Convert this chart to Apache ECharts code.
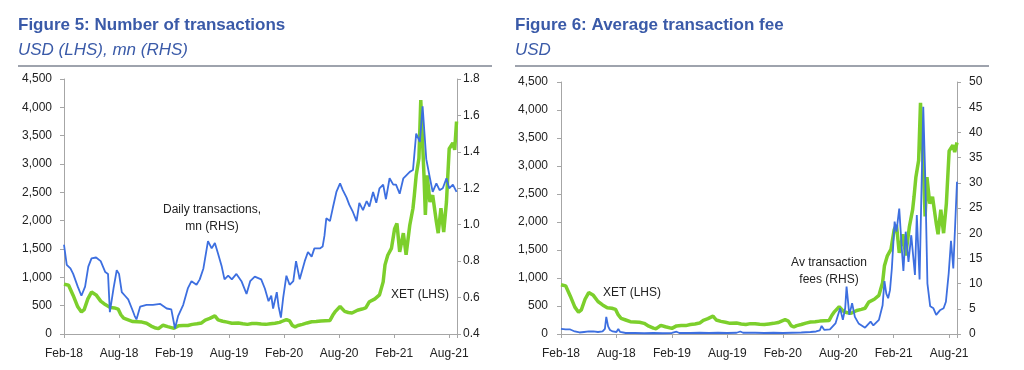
<!DOCTYPE html>
<html><head><meta charset="utf-8">
<script src="https://cdn.jsdelivr.net/npm/echarts@6/dist/echarts.min.js"></script>
<style>html,body{margin:0;padding:0;background:#fff}#c{width:1024px;height:370px}</style>
</head><body><div id="c"></div>
<script>
// x values: months since 1 Feb 2018
const tickLabels = ['Feb-18','Aug-18','Feb-19','Aug-19','Feb-20','Aug-20','Feb-21','Aug-21'];

// Figure 5, blue: daily transactions, mn (RHS)
const dailyTxMn = [[0,0.89],[0.3,0.78],[0.7,0.76],[1,0.73],[1.5,0.66],[1.9,0.61],[2.3,0.66],[2.65,0.77],[3,0.815],[3.5,0.82],[4,0.80],[4.5,0.74],[4.8,0.73],[5.0,0.52],[5.4,0.65],[5.75,0.75],[6.0,0.73],[6.3,0.63],[6.65,0.61],[7,0.59],[7.4,0.54],[7.7,0.50],[7.9,0.48],[8.3,0.55],[9,0.56],[9.7,0.56],[10.5,0.565],[11.2,0.54],[11.7,0.535],[12.1,0.43],[12.45,0.50],[13,0.56],[13.5,0.65],[13.9,0.69],[14.45,0.67],[14.8,0.70],[15.2,0.76],[15.7,0.91],[16.1,0.87],[16.45,0.90],[16.8,0.84],[17.2,0.77],[17.5,0.70],[17.9,0.72],[18.3,0.70],[18.8,0.73],[19.35,0.69],[19.9,0.62],[20.3,0.69],[20.8,0.715],[21.5,0.70],[21.9,0.65],[22.3,0.58],[22.6,0.61],[22.8,0.54],[23.2,0.63],[23.4,0.55],[23.65,0.49],[23.9,0.60],[24.25,0.72],[24.6,0.67],[25,0.69],[25.3,0.80],[25.7,0.70],[26.25,0.80],[26.6,0.85],[27,0.825],[27.3,0.87],[27.9,0.87],[28.2,0.88],[28.4,0.94],[28.6,1.035],[29,1.02],[29.3,1.09],[29.7,1.18],[30.1,1.227],[30.4,1.19],[30.8,1.15],[31.1,1.11],[31.5,1.07],[31.9,1.02],[32.2,1.12],[32.6,1.08],[33,1.13],[33.3,1.10],[33.7,1.18],[34.05,1.12],[34.4,1.20],[34.8,1.22],[35.1,1.14],[35.5,1.255],[35.9,1.22],[36.2,1.22],[36.6,1.17],[37,1.255],[37.3,1.27],[37.7,1.29],[38.05,1.30],[38.4,1.50],[38.8,1.455],[39.1,1.65],[39.5,1.36],[39.9,1.255],[40.2,1.18],[40.6,1.227],[40.95,1.19],[41.3,1.20],[41.7,1.255],[42,1.20],[42.4,1.22],[42.8,1.18]];

// XET price, USD (LHS)
const xetPrice = [[0,880],[0.5,860],[1,680],[1.5,480],[1.9,390],[2.2,430],[2.6,620],[3.0,740],[3.5,690],[4,580],[4.5,520],[5.0,470],[5.5,460],[5.9,440],[6.2,340],[6.5,280],[7,250],[7.5,220],[8,215],[8.5,210],[9,190],[9.5,140],[10,105],[10.3,95],[10.8,155],[11.3,130],[12,100],[12.5,145],[13,150],[13.5,150],[14,170],[14.5,180],[15,195],[15.4,245],[15.9,275],[16.45,320],[16.8,250],[17.3,225],[17.8,210],[18.3,190],[19,195],[19.5,180],[20,170],[20.5,185],[21,185],[21.5,175],[22,170],[22.5,180],[23,190],[23.5,205],[23.8,225],[24.25,255],[24.6,230],[24.9,150],[25.2,125],[25.5,150],[26,170],[26.5,195],[27,215],[27.5,220],[28,230],[28.5,235],[29,240],[29.3,330],[29.6,400],[30.1,485],[30.6,400],[31,380],[31.4,370],[32,420],[32.5,440],[32.9,460],[33.3,570],[33.9,620],[34.4,690],[34.8,920],[35.0,1220],[35.3,1390],[35.7,1510],[36.05,1860],[36.3,1950],[36.6,1450],[37,1780],[37.3,1400],[37.7,1920],[38.05,2220],[38.2,2450],[38.4,2800],[38.7,3100],[38.9,4130],[39.1,4100],[39.25,2800],[39.4,2100],[39.6,2800],[39.9,2330],[40.2,2450],[40.6,1980],[40.8,1780],[41.1,2220],[41.4,1800],[41.7,2330],[42.0,3270],[42.4,3370],[42.6,3250],[42.8,3750]];
// last reading of XET in Figure 6 (its series stops a little earlier)
const xetPriceFig6Tail = [[42.85,3420]];

// Figure 6, blue: average transaction fee, USD (RHS)
const avgFeeUsd = [[0,1.0],[0.5,0.9],[1,0.9],[1.5,0.5],[2,0.3],[2.5,0.4],[3,0.5],[3.5,0.5],[4,0.4],[4.5,0.5],[4.75,1.0],[4.9,3.4],[5.1,1.5],[5.3,0.8],[5.6,0.5],[6.0,0.4],[6.2,1.0],[6.4,0.4],[7,0.2],[8,0.2],[9,0.15],[10,0.2],[11,0.15],[12,0.2],[12.5,0.45],[12.8,0.2],[14,0.2],[15,0.25],[16,0.2],[17,0.25],[18,0.2],[19,0.25],[19.4,0.5],[19.7,0.25],[21,0.25],[22,0.2],[23,0.25],[24,0.2],[25,0.25],[26,0.3],[27,0.4],[27.6,0.5],[28.0,0.7],[28.2,1.6],[28.5,0.8],[29.1,0.9],[29.7,2.1],[30.2,5.1],[30.5,2.8],[30.75,5.1],[30.9,9.4],[31.2,3.8],[31.5,6.1],[31.8,3.4],[32.2,2.1],[32.9,1.25],[33.5,2.45],[33.8,1.7],[34.4,2.8],[34.8,5.7],[35.0,10.5],[35.2,8],[35.4,7.1],[35.6,8.7],[35.8,13],[36.1,22.3],[36.3,20.3],[36.6,24.9],[36.9,16.3],[37.05,12.5],[37.3,20.3],[37.6,14.3],[37.9,19.6],[38.3,11.7],[38.5,23.6],[38.8,10.8],[39.2,45.1],[39.4,32],[39.65,10],[39.95,5.5],[40.3,5.1],[40.6,3.8],[41.0,4.7],[41.4,5.1],[41.65,6.4],[41.95,12],[42.2,18.5],[42.45,13],[42.85,30.2]];

const FONT = '"Liberation Sans", Arial, sans-serif';
const BLUE = '#3d6fe0';
const GREEN = '#7ccf2c';
const TITLE = '#3a5aa8';
const AXIS = '#a6a6a6';

const chart = echarts.init(document.getElementById('c'), null, {renderer: 'canvas'});

function xAxisCfg(gi) {
  return {
    type: 'value', gridIndex: gi, min: 0, max: 42.85, interval: 6,
    axisLine: {lineStyle: {color: AXIS, width: 1}},
    axisTick: {length: 4, lineStyle: {color: AXIS}},
    splitLine: {show: false},
    axisLabel: {
      margin: 14, fontSize: 12, color: '#222', fontFamily: FONT,
      formatter: v => (Math.abs(v % 6) < 1e-9 && tickLabels[Math.round(v / 6)]) || ''
    }
  };
}
function yAxisCfg(gi, pos, min, max, interval, fmt, margin) {
  return {
    type: 'value', gridIndex: gi, position: pos, min, max, interval,
    axisLine: {show: true, lineStyle: {color: AXIS, width: 1}},
    axisTick: {show: true, length: 4, lineStyle: {color: AXIS}},
    splitLine: {show: false},
    axisLabel: {margin, fontSize: 12, color: '#222', fontFamily: FONT, formatter: fmt}
  };
}
const commas = v => Math.round(v).toLocaleString('en-US');

const option = {
  animation: false,
  backgroundColor: '#fff',
  grid: [
    {left: 64, right: 1024 - 457, top: 79, bottom: 36},
    {left: 561, right: 1024 - 957, top: 82, bottom: 36}
  ],
  xAxis: [xAxisCfg(0), xAxisCfg(1)],
  yAxis: [
    yAxisCfg(0, 'left', 0, 4500, 500, commas, 12),
    yAxisCfg(0, 'right', 0.4, 1.8, 0.2, v => v.toFixed(1), 6),
    yAxisCfg(1, 'left', 0, 4500, 500, commas, 13),
    yAxisCfg(1, 'right', 0, 50, 5, v => String(Math.round(v)), 12)
  ],
  series: [
    {type: 'line', xAxisIndex: 0, yAxisIndex: 0, data: xetPrice, showSymbol: false, smooth: false,
     lineStyle: {color: GREEN, width: 3.5}, z: 2},
    {type: 'line', xAxisIndex: 0, yAxisIndex: 1, data: dailyTxMn, showSymbol: false,
     lineStyle: {color: BLUE, width: 1.8}, z: 3},
    {type: 'line', xAxisIndex: 1, yAxisIndex: 2, data: xetPrice.slice(0, -1).concat(xetPriceFig6Tail), showSymbol: false,
     lineStyle: {color: GREEN, width: 3.5}, z: 2},
    {type: 'line', xAxisIndex: 1, yAxisIndex: 3, data: avgFeeUsd, showSymbol: false,
     lineStyle: {color: BLUE, width: 1.8}, z: 3}
  ],
  graphic: [
    {type: 'text', left: 18, top: 17, style: {text: 'Figure 5: Number of transactions', fill: TITLE, font: 'bold 17px ' + FONT}},
    {type: 'text', left: 18, top: 42, style: {text: 'USD (LHS), mn (RHS)', fill: TITLE, font: 'italic 17px ' + FONT}},
    {type: 'rect', shape: {x: 18, y: 65, width: 474, height: 2}, style: {fill: '#9ea3ad'}},
    {type: 'text', left: 515, top: 17, style: {text: 'Figure 6: Average transaction fee', fill: TITLE, font: 'bold 17px ' + FONT}},
    {type: 'text', left: 515, top: 42, style: {text: 'USD', fill: TITLE, font: 'italic 17px ' + FONT}},
    {type: 'rect', shape: {x: 515, y: 65, width: 474, height: 2}, style: {fill: '#9ea3ad'}},
    {type: 'text', x: 212, y: 218.5, style: {text: 'Daily transactions,\nmn (RHS)', fill: '#222', font: '12px ' + FONT, align: 'center', verticalAlign: 'middle', lineHeight: 17}},
    {type: 'text', x: 391, y: 295, style: {text: 'XET (LHS)', fill: '#222', font: '12px ' + FONT, align: 'left', verticalAlign: 'middle'}},
    {type: 'text', x: 603, y: 293, style: {text: 'XET (LHS)', fill: '#222', font: '12px ' + FONT, align: 'left', verticalAlign: 'middle'}},
    {type: 'text', x: 829, y: 271.5, style: {text: 'Av transaction\nfees (RHS)', fill: '#222', font: '12px ' + FONT, align: 'center', verticalAlign: 'middle', lineHeight: 17}}
  ]
};
chart.setOption(option);
</script>
</body></html>
